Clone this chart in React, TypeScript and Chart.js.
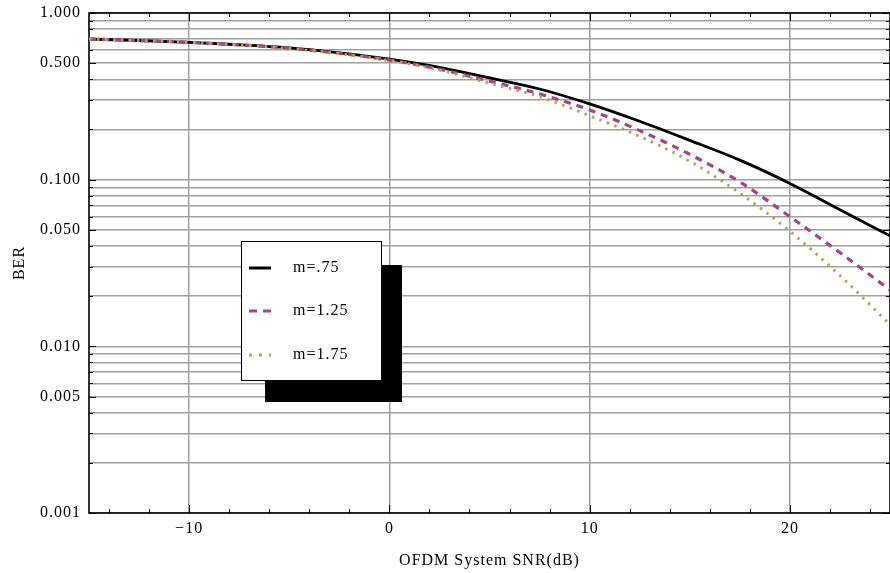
import React, { useEffect, useRef } from 'react';
import { Chart, registerables } from 'chart.js';

Chart.register(...registerables);

// ---- data ----
const snrDb = [-15, -12.5, -10, -7.5, -5, -2.5, 0, 2.5, 5, 7.5, 10, 12.5, 15, 17.5, 20, 22.5, 25];
const berM075 = [0.698, 0.684, 0.667, 0.645, 0.617, 0.576, 0.528, 0.472, 0.408, 0.35, 0.285, 0.224, 0.172, 0.131, 0.095, 0.066, 0.046];
const berM125 = [0.698, 0.684, 0.667, 0.644, 0.615, 0.572, 0.522, 0.46, 0.39, 0.327, 0.262, 0.197, 0.142, 0.097, 0.06, 0.0365, 0.0218];
const berM175 = [0.698, 0.684, 0.667, 0.643, 0.613, 0.569, 0.518, 0.455, 0.379, 0.315, 0.242, 0.182, 0.129, 0.083, 0.049, 0.0266, 0.0135];
const seriesLabels = ['m=.75', 'm=1.25', 'm=1.75'];

const xTickValues = [-10, 0, 10, 20];
const xMinorTickValues = [-14, -12, -10, -8, -6, -4, -2, 0, 2, 4, 6, 8, 10, 12, 14, 16, 18, 20, 22, 24];
const yGridValues = [
  0.001, 0.002, 0.003, 0.004, 0.005, 0.006, 0.007, 0.008, 0.009,
  0.01, 0.02, 0.03, 0.04, 0.05, 0.06, 0.07, 0.08, 0.09,
  0.1, 0.2, 0.3, 0.4, 0.5, 0.6, 0.7, 0.8, 0.9, 1,
];
const yLabelValues = [1, 0.5, 0.1, 0.05, 0.01, 0.005, 0.001];

const FONT = "'Liberation Serif', 'Times New Roman', serif";
const colBlack = '#000000';
const colPurple = '#a4467f';
const colTan = '#b8a35e';

const isLabelValue = (v: number) => yLabelValues.some((l) => Math.abs(v - l) / l < 1e-6);

const framePlugin = {
  id: 'frameTicks',
  beforeDraw(chart: any) {
    chart.ctx.letterSpacing = '1px';
  },
  beforeDatasetsDraw(chart: any) {
    const { ctx, chartArea: a, scales } = chart;
    const xs = scales.x;
    const ys = scales.y;
    ctx.save();
    ctx.strokeStyle = '#000';
    ctx.lineWidth = 1;
    ctx.beginPath();
    for (const v of xMinorTickValues) {
      const px = Math.round(xs.getPixelForValue(v)) + 0.5;
      const len = xTickValues.includes(v) ? 8 : 4;
      ctx.moveTo(px, a.bottom);
      ctx.lineTo(px, a.bottom - len);
      ctx.moveTo(px, a.top);
      ctx.lineTo(px, a.top + len);
    }
    for (const v of yGridValues) {
      const py = Math.round(ys.getPixelForValue(v)) + 0.5;
      const len = isLabelValue(v) ? 7 : 4;
      ctx.moveTo(a.left, py);
      ctx.lineTo(a.left + len, py);
      ctx.moveTo(a.right, py);
      ctx.lineTo(a.right - len, py);
    }
    ctx.stroke();
    ctx.lineWidth = 1.6;
    ctx.strokeRect(a.left, a.top, a.right - a.left, a.bottom - a.top);
    ctx.restore();
  },
  afterDraw(chart: any) {
    const { ctx, chartArea: a } = chart;
    const bx = a.left + 152;
    const by = a.top + 228;
    const bw = 140;
    const bh = 139;
    ctx.save();
    // shadow
    ctx.fillStyle = '#000';
    ctx.fillRect(bx + 24, by + 24, 137, 137);
    // box
    ctx.fillStyle = '#fff';
    ctx.fillRect(bx, by, bw, bh);
    ctx.strokeStyle = '#000';
    ctx.lineWidth = 1;
    ctx.strokeRect(bx + 0.5, by + 0.5, bw, bh);

    const rows = [by + 27, by + 70, by + 114];
    const styles = [
      { color: colBlack, dash: [], width: 3 },
      { color: colPurple, dash: [8, 6], width: 3 },
      { color: colTan, dash: [3, 7], width: 3 },
    ];
    rows.forEach((ry, i) => {
      const s = styles[i];
      ctx.beginPath();
      ctx.setLineDash(s.dash);
      ctx.strokeStyle = s.color;
      ctx.lineWidth = s.width;
      ctx.moveTo(bx + 8, ry);
      ctx.lineTo(bx + 30, ry);
      ctx.stroke();
      ctx.setLineDash([]);
      ctx.fillStyle = '#000';
      ctx.font = `16px ${FONT}`;
      ctx.letterSpacing = '1px';
      ctx.textAlign = 'left';
      ctx.textBaseline = 'middle';
      ctx.fillText(seriesLabels[i], bx + 52, ry);
    });
    ctx.restore();
  },
};

export default function App() {
  const canvasRef = useRef<HTMLCanvasElement | null>(null);

  useEffect(() => {
    document.body.style.margin = '0';
    const canvas = canvasRef.current;
    if (!canvas) return;
    const mk = (ys: number[]) => snrDb.map((x, i) => ({ x, y: ys[i] }));
    const chart = new Chart(canvas, {
      type: 'line',
      data: {
        datasets: [
          {
            label: seriesLabels[0],
            data: mk(berM075),
            borderColor: colBlack,
            borderWidth: 2.8,
            pointRadius: 0,
            cubicInterpolationMode: 'monotone',
            order: 3,
          },
          {
            label: seriesLabels[1],
            data: mk(berM125),
            borderColor: colPurple,
            borderWidth: 3.2,
            borderDash: [7, 6],
            pointRadius: 0,
            cubicInterpolationMode: 'monotone',
            order: 2,
          },
          {
            label: seriesLabels[2],
            data: mk(berM175),
            borderColor: colTan,
            borderWidth: 3,
            borderDash: [2.5, 5.5],
            pointRadius: 0,
            cubicInterpolationMode: 'monotone',
            order: 1,
          },
        ],
      },
      options: {
        responsive: false,
        animation: false,
        devicePixelRatio: 1,
        layout: { padding: { top: 13, left: 0, right: 0, bottom: 0 } },
        plugins: {
          legend: { display: false },
          tooltip: { enabled: false },
        },
        scales: {
          x: {
            type: 'linear',
            min: -15,
            max: 25,
            afterBuildTicks: (s: any) => {
              s.ticks = xTickValues.map((v) => ({ value: v }));
            },
            afterFit: (s: any) => {
              s.height = 60;
              s.paddingLeft = 0;
              s.paddingRight = 0;
            },
            border: { display: false },
            grid: { color: '#a0a0a0', lineWidth: 1.5, drawTicks: false },
            ticks: {
              autoSkip: false,
              maxRotation: 0,
              padding: 6,
              color: '#000',
              font: { family: FONT, size: 16 },
              callback: (v: any) => (Number(v) < 0 ? '\u2212' + Math.abs(Number(v)) : String(v)),
            },
            title: {
              display: true,
              text: 'OFDM System SNR(dB)',
              color: '#000',
              font: { family: FONT, size: 16 },
              padding: { top: 0, bottom: 3 },
            },
          },
          y: {
            type: 'logarithmic',
            min: 0.001,
            max: 1,
            afterBuildTicks: (s: any) => {
              s.ticks = yGridValues.map((v) => ({ value: v }));
            },
            afterFit: (s: any) => {
              s.width = 89;
              s.paddingTop = 0;
              s.paddingBottom = 0;
            },
            border: { display: false },
            grid: { color: '#a0a0a0', lineWidth: 1.5, drawTicks: false },
            ticks: {
              autoSkip: false,
              padding: 8,
              color: '#000',
              font: { family: FONT, size: 16 },
              callback: (v: any) => (isLabelValue(Number(v)) ? Number(v).toFixed(3) : ''),
            },
            title: {
              display: true,
              text: 'BER',
              color: '#000',
              font: { family: FONT, size: 16 },
              padding: { top: 10, bottom: 0 },
            },
          },
        },
      },
      plugins: [framePlugin],
    } as any);
    return () => chart.destroy();
  }, []);

  return (
    <div style={{ width: 890, height: 573, background: '#fff' }}>
      <canvas ref={canvasRef} width={890} height={573} style={{ display: 'block' }} />
    </div>
  );
}
